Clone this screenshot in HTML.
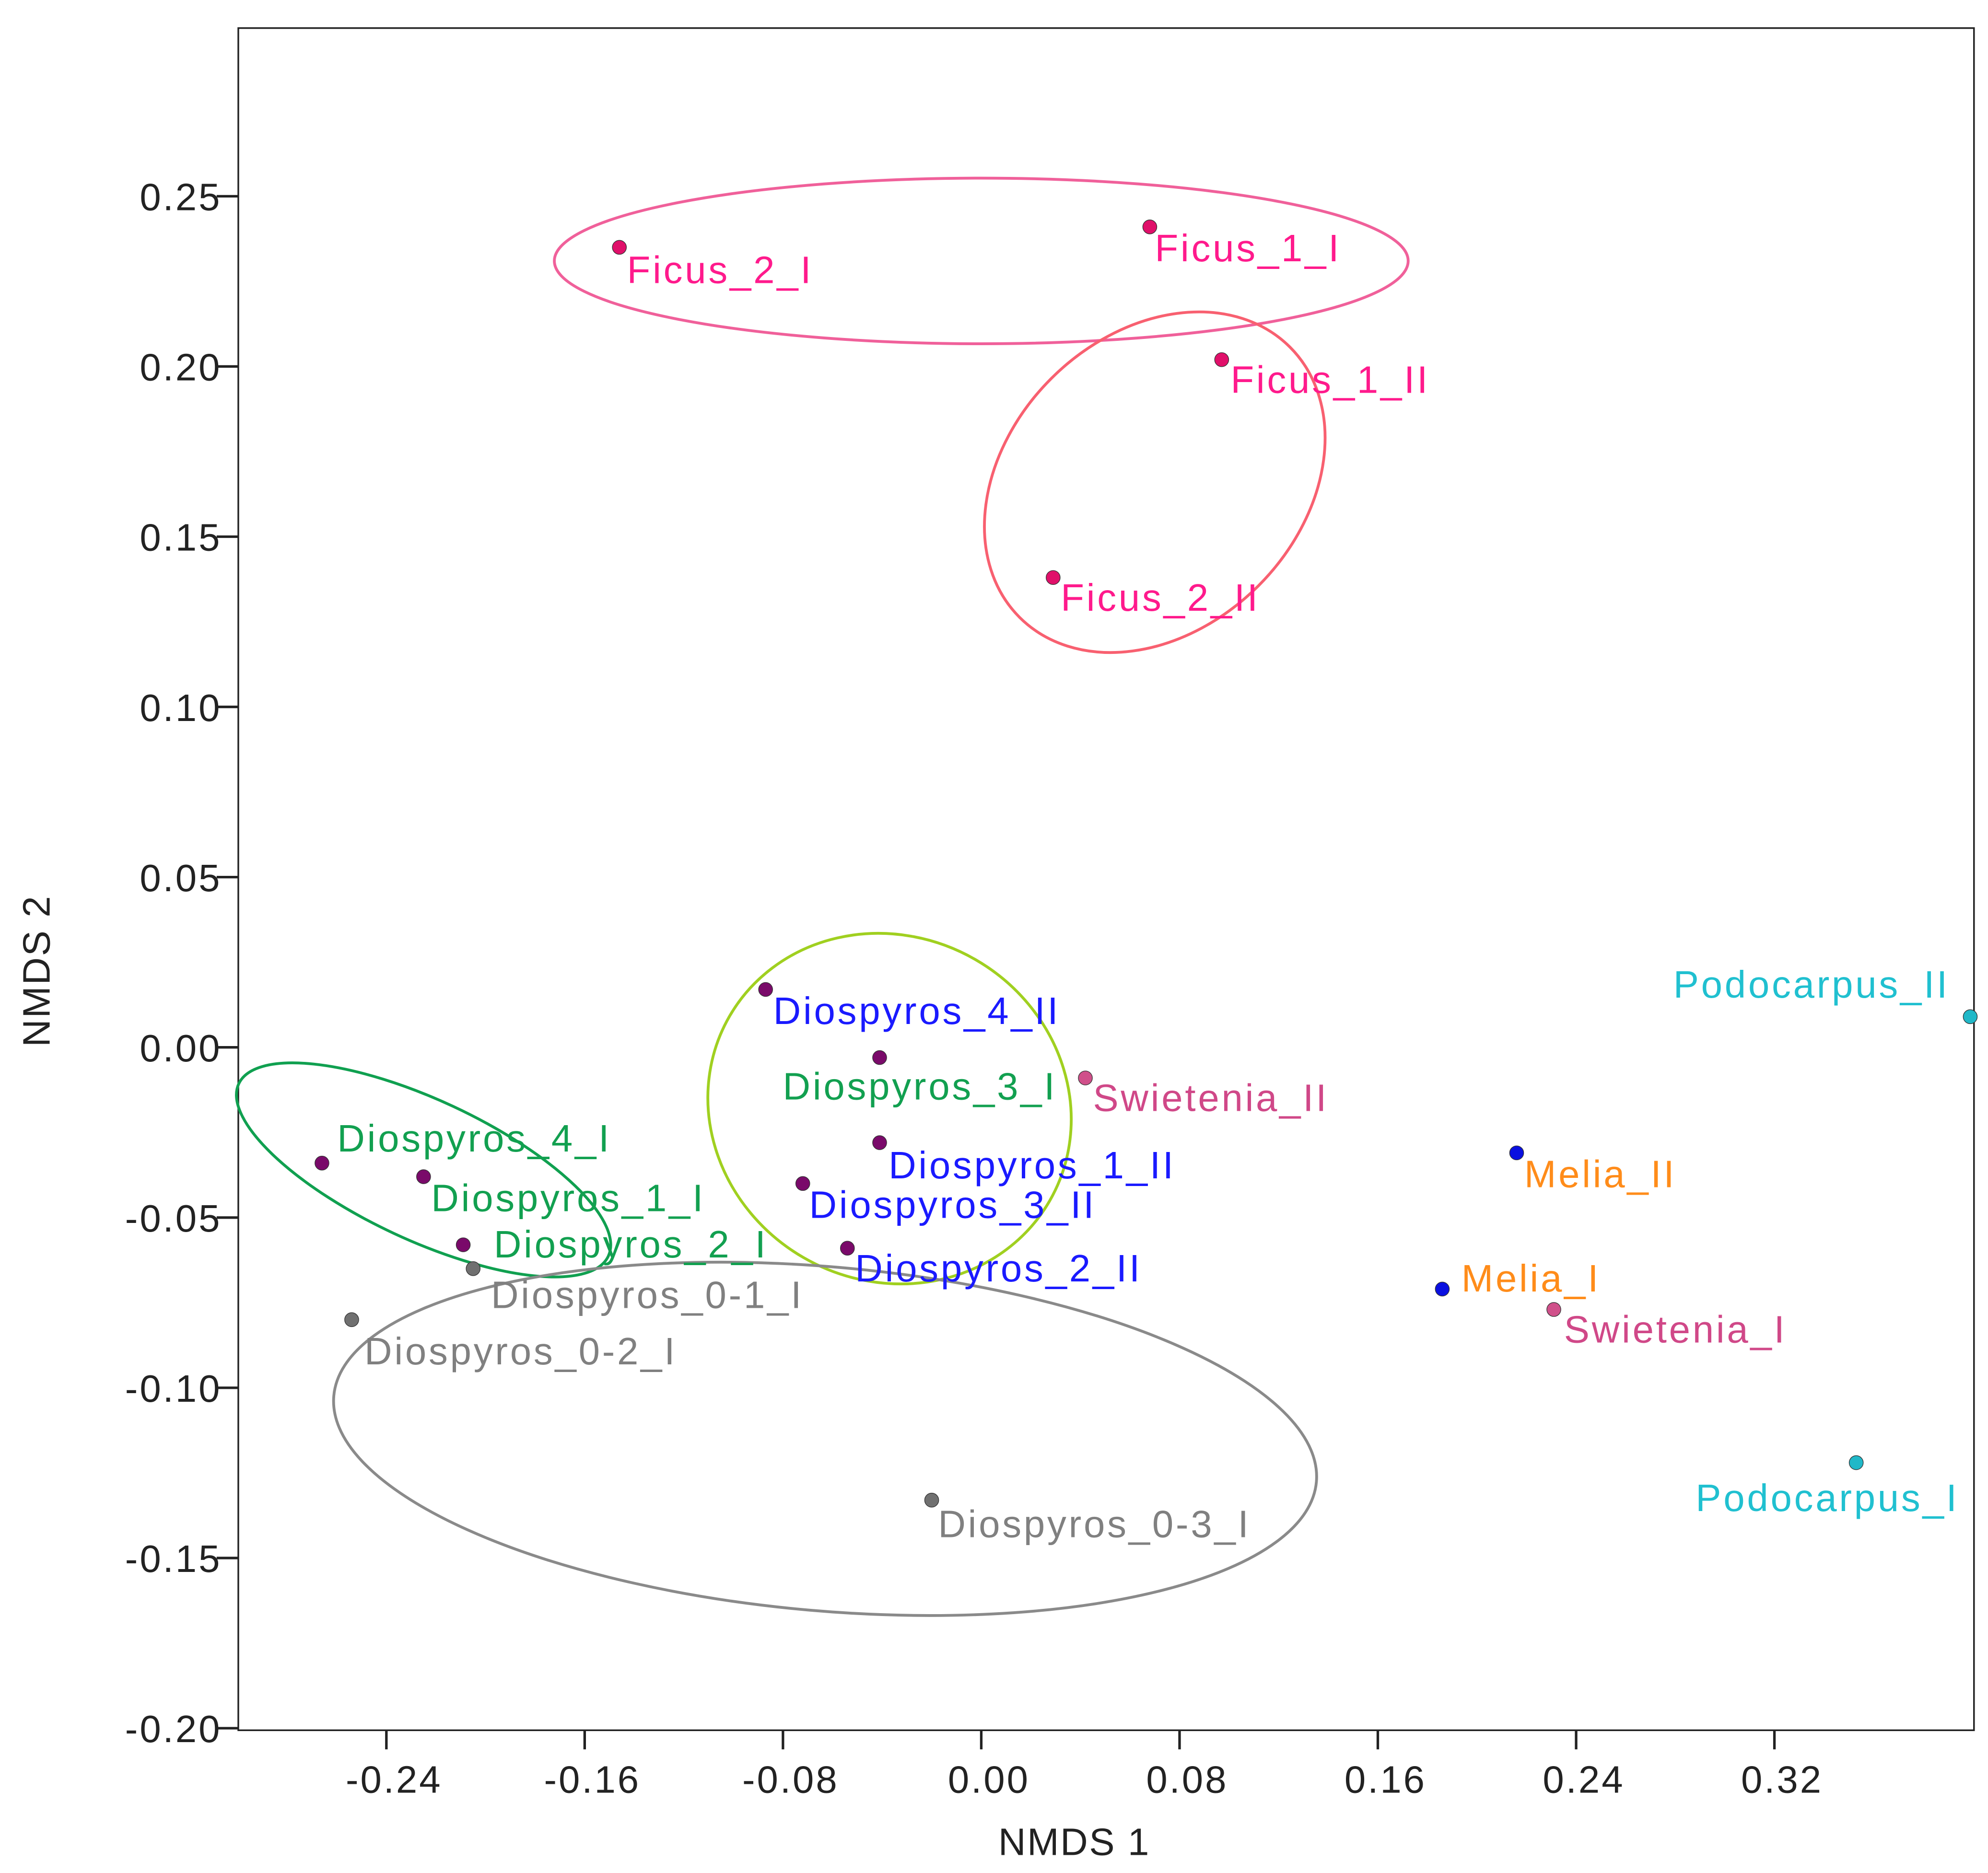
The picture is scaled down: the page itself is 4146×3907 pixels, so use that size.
<!DOCTYPE html>
<html><head><meta charset="utf-8"><style>html,body{margin:0;padding:0;background:#fff}svg{display:block}</style></head>
<body>
<svg id="chart" width="4146" height="3907" viewBox="0 0 1560 1470" xmlns="http://www.w3.org/2000/svg" font-family="Liberation Sans, Arial, sans-serif">
<rect x="187" y="22" width="1362" height="1336" fill="none" stroke="#222" stroke-width="1.3"/>
<g id="axes"></g><g id="ellipses"></g><g id="points"></g>
<text x="843" y="1456" font-size="30" letter-spacing="1" text-anchor="middle" fill="#222">NMDS 1</text>
<text transform="translate(39,762) rotate(-90)" font-size="30" letter-spacing="1" text-anchor="middle" fill="#222">NMDS 2</text>
</svg>
<script>
const xTicks=[-0.24,-0.16,-0.08,0.00,0.08,0.16,0.24,0.32];
const xTickLabels=["-0.24","-0.16","-0.08","0.00","0.08","0.16","0.24","0.32"];
const yTicks=[0.25,0.20,0.15,0.10,0.05,0.00,-0.05,-0.10,-0.15,-0.20];
const yTickLabels=["0.25","0.20","0.15","0.10","0.05","0.00","-0.05","-0.10","-0.15","-0.20"];
const names=["Ficus_2_I","Ficus_1_I","Ficus_1_II","Ficus_2_II","Diospyros_4_II","Diospyros_3_I","Swietenia_II","Diospyros_1_II","Diospyros_3_II","Diospyros_2_II","Diospyros_4_I","Diospyros_1_I","Diospyros_2_I","Diospyros_0-1_I","Diospyros_0-2_I","Diospyros_0-3_I","Melia_II","Melia_I","Swietenia_I","Podocarpus_II","Podocarpus_I"];
const xVals=[-0.146,0.068,0.097,0.029,-0.087,-0.041,0.042,-0.041,-0.072,-0.054,-0.266,-0.225,-0.209,-0.205,-0.254,-0.020,0.216,0.186,0.231,0.399,0.353];
const yVals=[0.235,0.241,0.202,0.138,0.017,-0.003,-0.009,-0.028,-0.040,-0.059,-0.034,-0.038,-0.058,-0.065,-0.080,-0.133,-0.031,-0.071,-0.077,0.009,-0.122];
const labelDx=[6,4,7,6,6,-76,6,7,5,6,12,6,24,14,10,5,6,15,8,-233,-126];
const labelDy=[28,27,26,26,27,33,26,28,27,26,-9,27,10,31,35,29,27,2,26,-15,38];
const dotColors=["#e0106a","#e0106a","#e0106a","#e0106a","#7a0a6a","#7a0a6a","#d0508a","#7a0a6a","#7a0a6a","#7a0a6a","#7a0a6a","#7a0a6a","#7a0a6a","#707070","#707070","#707070","#0a10e0","#0a10e0","#d0508a","#20b8c8","#20b8c8"];
const textColors=["#ff1a8c","#ff1a8c","#ff1a8c","#ff1a8c","#1a1aff","#12a050","#d04888","#1a1aff","#1a1aff","#1a1aff","#12a050","#12a050","#12a050","#808080","#808080","#808080","#ff8c1a","#ff8c1a","#d04888","#20c0d0","#20c0d0"];
const ellCx=[0.000,0.070,-0.037,-0.225,-0.063];
const ellCy=[0.231,0.166,-0.018,-0.036,-0.115];
const ellRx=[335,150,145,160,387];
const ellRy=[65,115,135,55,135];
const ellAngle=[0,-45,30,25,5];
const ellColors=["#f0609a","#f86070","#a0d020","#10a050","#8a8a8a"];
const X=v=>770+v*1945, Y=v=>822-v*2672;
const NS="http://www.w3.org/2000/svg";
function mk(t,a,p){const e=document.createElementNS(NS,t);for(const k in a)e.setAttribute(k,a[k]);p.appendChild(e);return e;}
const ax=document.getElementById('axes');
xTicks.forEach((t,i)=>{const x=X(t);
 const l=mk('line',{x1:x,x2:x,y1:1358,y2:1373,stroke:'#222','stroke-width':2},ax);
 
 
 const tx=mk('text',{x:x+6,y:1407,'font-size':30,'letter-spacing':1.5,'text-anchor':'middle',fill:'#222'},ax);tx.textContent=xTickLabels[i];
 
 });
yTicks.forEach((t,i)=>{const y=Y(t);
 const l=mk('line',{x1:170,x2:187,y1:y,y2:y,stroke:'#222','stroke-width':2},ax);
 
 
 const tx=mk('text',{x:174,y:y+11,'font-size':30,'letter-spacing':1.5,'text-anchor':'end',fill:'#222'},ax);tx.textContent=yTickLabels[i];
 
 });
const eg=document.getElementById('ellipses');
ellCx.forEach((c,i)=>{const cx=X(c),cy=Y(ellCy[i]);
 const e=mk('ellipse',{cx:cx,cy:cy,rx:ellRx[i],ry:ellRy[i],transform:`rotate(${ellAngle[i]} ${cx} ${cy})`,fill:'none',stroke:ellColors[i],'stroke-width':2.2},eg);
 
 });
const pg=document.getElementById('points');
names.forEach((n,i)=>{const x=X(xVals[i]),y=Y(yVals[i]);
 const c=mk('circle',{cx:x,cy:y,r:5.5,fill:dotColors[i],stroke:'#333','stroke-width':0.5},pg);
 
 
 const t=mk('text',{x:x+labelDx[i],y:y+labelDy[i],'font-size':30,'letter-spacing':1.8,fill:textColors[i]},pg);t.textContent=n;
 
 });
</script>
</body></html>
